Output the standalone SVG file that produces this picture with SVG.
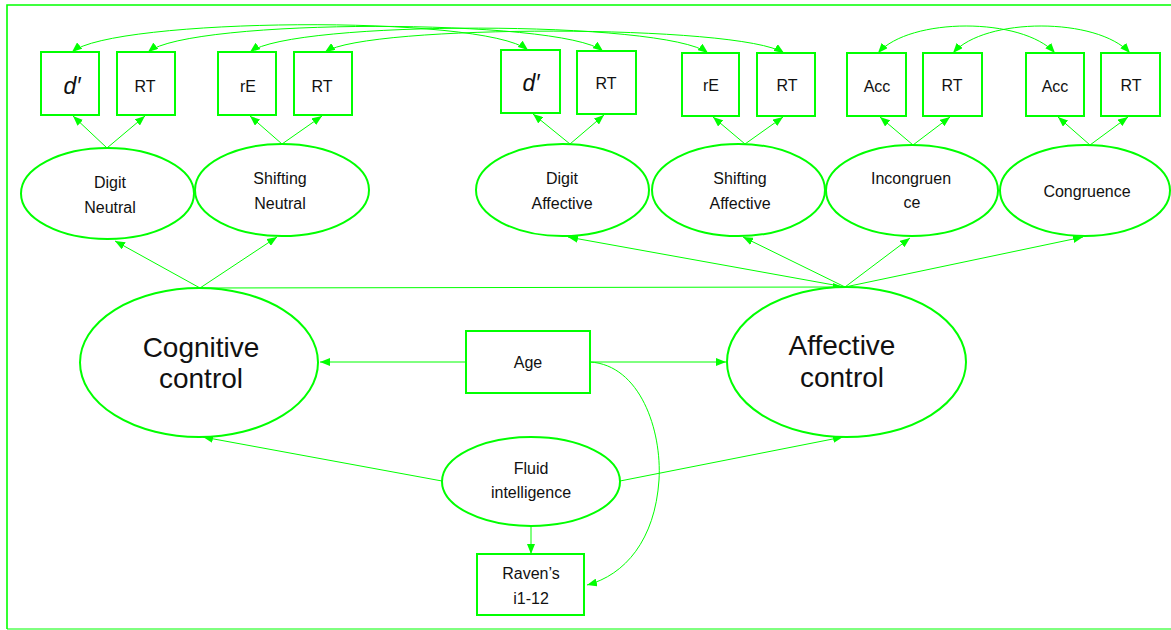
<svg xmlns="http://www.w3.org/2000/svg" width="1171" height="630" viewBox="0 0 1171 630">
<defs>
<marker id="ah" viewBox="0 0 10 8" refX="10" refY="4" markerWidth="10" markerHeight="8" orient="auto-start-reverse" markerUnits="userSpaceOnUse"><path d="M0,0 L10,4 L0,8 z" fill="#00ff00"/></marker>
<style>
.box{fill:#fff;stroke:#00ff00;stroke-width:2}
.ell{fill:#fff;stroke:#00ff00;stroke-width:2}
.c{fill:none;stroke:#00ff00;stroke-width:1}
.t{font-family:"Liberation Sans",Arial,sans-serif;font-size:16px;fill:#111;text-anchor:middle}
.d{font-family:"Liberation Sans",Arial,sans-serif;font-size:23px;font-style:italic;fill:#111;text-anchor:middle}
.big{font-family:"Liberation Sans",Arial,sans-serif;font-size:28px;fill:#111;text-anchor:middle}
.frame{stroke:#00ff00;fill:none}
</style>
</defs>
<rect width="1171" height="630" fill="#fff"/>
<g id="frame">
<path class="frame" stroke-width="1.6" d="M7,629 L7,5 L1171,5"/>
<path class="frame" stroke-width="1" d="M7,629 L1171,629"/>
</g>
<g id="connectors">
<path class="c" marker-start="url(#ah)" marker-end="url(#ah)" d="M72,52 C112,18 482,14 528,50"/>
<path class="c" marker-start="url(#ah)" marker-end="url(#ah)" d="M148,52 C190,18 560,18 603,51"/>
<path class="c" marker-start="url(#ah)" marker-end="url(#ah)" d="M250,52 C292,20 665,20 708,53"/>
<path class="c" marker-start="url(#ah)" marker-end="url(#ah)" d="M325,52 C367,24 740,24 784,53"/>
<path class="c" marker-start="url(#ah)" marker-end="url(#ah)" d="M878,53 C910,17 1022,17 1055,53"/>
<path class="c" marker-start="url(#ah)" marker-end="url(#ah)" d="M953,53 C985,17 1097,17 1130,53"/>
<path class="c" marker-end="url(#ah)" d="M107,148 L73,116"/>
<path class="c" marker-end="url(#ah)" d="M107,148 L145,116"/>
<path class="c" marker-end="url(#ah)" d="M282,144 L250,116"/>
<path class="c" marker-end="url(#ah)" d="M282,144 L322,116"/>
<path class="c" marker-end="url(#ah)" d="M570,144 L533,114"/>
<path class="c" marker-end="url(#ah)" d="M570,144 L604,115"/>
<path class="c" marker-end="url(#ah)" d="M745,144 L713,117"/>
<path class="c" marker-end="url(#ah)" d="M745,144 L783,117"/>
<path class="c" marker-end="url(#ah)" d="M913,145 L880,117"/>
<path class="c" marker-end="url(#ah)" d="M913,145 L950,117"/>
<path class="c" marker-end="url(#ah)" d="M1090,145 L1058,117"/>
<path class="c" marker-end="url(#ah)" d="M1090,145 L1128,117"/>
<path class="c" marker-end="url(#ah)" d="M200,288 L115,241"/>
<path class="c" marker-end="url(#ah)" d="M200,288 L277,237"/>
<path class="c" marker-end="url(#ah)" d="M200,288 L843,287"/>
<path class="c" marker-end="url(#ah)" d="M845,287 L568,237"/>
<path class="c" marker-end="url(#ah)" d="M845,287 L743,237"/>
<path class="c" marker-end="url(#ah)" d="M845,287 L910,238"/>
<path class="c" marker-end="url(#ah)" d="M845,287 L1083,237"/>
<path class="c" marker-end="url(#ah)" d="M466,362 L320,362"/>
<path class="c" marker-end="url(#ah)" d="M590,362 L726,362"/>
<path class="c" marker-end="url(#ah)" d="M590,362 C640,365 662,430 659,480 C655,540 625,575 587,585"/>
<path class="c" marker-end="url(#ah)" d="M442,481 L203,437"/>
<path class="c" marker-end="url(#ah)" d="M620,481 L843,437"/>
<path class="c" marker-end="url(#ah)" d="M531,526 L531,554"/>
</g>
<g id="n_dprime_neutral"><rect class="box" x="41" y="52" width="58" height="63"/><text class="d" x="72" y="94">d′</text></g>
<g id="n_rt_digit_neutral"><rect class="box" x="117" y="52" width="58" height="63"/><text class="t" x="145" y="92">RT</text></g>
<g id="n_re_neutral"><rect class="box" x="218" y="52" width="58" height="63"/><text class="t" x="248" y="92">rE</text></g>
<g id="n_rt_shift_neutral"><rect class="box" x="294" y="52" width="58" height="63"/><text class="t" x="322" y="92">RT</text></g>
<g id="n_dprime_affective"><rect class="box" x="501" y="50" width="59" height="63"/><text class="d" x="531" y="91">d′</text></g>
<g id="n_rt_digit_affective"><rect class="box" x="577" y="51" width="59" height="63"/><text class="t" x="606" y="89">RT</text></g>
<g id="n_re_affective"><rect class="box" x="682" y="53" width="57" height="63"/><text class="t" x="711" y="91">rE</text></g>
<g id="n_rt_shift_affective"><rect class="box" x="757" y="53" width="58" height="63"/><text class="t" x="787" y="91">RT</text></g>
<g id="n_acc_incong"><rect class="box" x="847" y="53" width="59" height="63"/><text class="t" x="877" y="92">Acc</text></g>
<g id="n_rt_incong"><rect class="box" x="923" y="53" width="59" height="63"/><text class="t" x="952" y="91">RT</text></g>
<g id="n_acc_cong"><rect class="box" x="1026" y="53" width="58" height="63"/><text class="t" x="1055" y="92">Acc</text></g>
<g id="n_rt_cong"><rect class="box" x="1101" y="53" width="59" height="63"/><text class="t" x="1131" y="91">RT</text></g>
<g id="n_digit_neutral"><ellipse class="ell" cx="107.5" cy="193.5" rx="86.5" ry="45.5"/><text class="t" x="110" y="188">Digit</text><text class="t" x="110" y="213">Neutral</text></g>
<g id="n_shifting_neutral"><ellipse class="ell" cx="282" cy="190" rx="87" ry="46"/><text class="t" x="280" y="184">Shifting</text><text class="t" x="280" y="209">Neutral</text></g>
<g id="n_digit_affective"><ellipse class="ell" cx="562.5" cy="190" rx="86.5" ry="46"/><text class="t" x="562" y="184">Digit</text><text class="t" x="562" y="209">Affective</text></g>
<g id="n_shifting_affective"><ellipse class="ell" cx="738.5" cy="190" rx="86.5" ry="46"/><text class="t" x="740" y="184">Shifting</text><text class="t" x="740" y="209">Affective</text></g>
<g id="n_incongruence"><ellipse class="ell" cx="912" cy="190.5" rx="86" ry="45.5"/><text class="t" x="911" y="184">Incongruen</text><text class="t" x="912" y="208">ce</text></g>
<g id="n_congruence"><ellipse class="ell" cx="1085" cy="190.5" rx="85" ry="45.5"/><text class="t" x="1087" y="197">Congruence</text></g>
<g id="n_cognitive"><ellipse class="ell" cx="199" cy="362.5" rx="119" ry="74.5"/><text class="big" x="201" y="357">Cognitive</text><text class="big" x="201" y="388">control</text></g>
<g id="n_affective"><ellipse class="ell" cx="846.5" cy="362" rx="119.5" ry="75"/><text class="big" x="842" y="355">Affective</text><text class="big" x="842" y="387">control</text></g>
<g id="n_age"><rect class="box" x="466" y="331" width="124" height="62"/><text class="t" x="528" y="368">Age</text></g>
<g id="n_fluid"><ellipse class="ell" cx="531" cy="481.5" rx="89" ry="44.5"/><text class="t" x="531" y="474">Fluid</text><text class="t" x="531" y="498">intelligence</text></g>
<g id="n_ravens"><rect class="box" x="477" y="554" width="107" height="61"/><text class="t" x="531" y="579">Raven’s</text><text class="t" x="531" y="604">i1-12</text></g>
</svg>
